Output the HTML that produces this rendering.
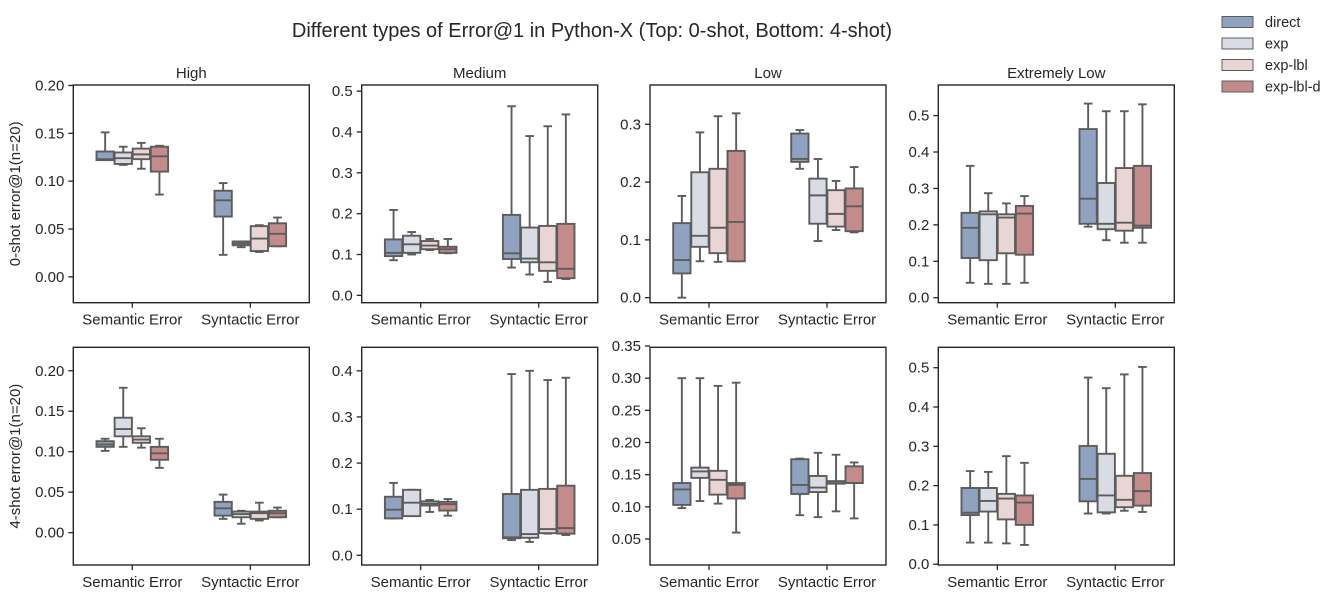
<!DOCTYPE html>
<html><head><meta charset="utf-8"><style>
body{margin:0;background:#fff;}
svg{display:block;font-family:"Liberation Sans",Arial,sans-serif;}
</style></head><body>
<svg id="chart" width="1339" height="602" viewBox="0 0 1339 602"></svg>
<script>
const categories = ["Semantic Error","Syntactic Error"];
const hues = ["direct","exp","exp-lbl","exp-lbl-d"];
const hueColors = ["#8fa3c0","#d9dce4","#ead5d5","#c38b89"];
const panelTitles = ["High","Medium","Low","Extremely Low"];
const rowLabels = ["0-shot error@1(n=20)","4-shot error@1(n=20)"];
// each box: [lowWhisker, q1, median, q3, highWhisker]
const high0 = [
 [[0.122,0.122,0.123,0.131,0.151],[0.117,0.118,0.124,0.130,0.136],[0.113,0.123,0.128,0.134,0.140],[0.086,0.110,0.126,0.136,0.137]],
 [[0.023,0.063,0.080,0.090,0.098],[0.031,0.033,0.035,0.037,0.037],[0.026,0.027,0.040,0.053,0.054],[0.032,0.032,0.045,0.056,0.062]]];
const medium0 = [
 [[0.086,0.096,0.104,0.137,0.209],[0.100,0.104,0.125,0.146,0.155],[0.111,0.113,0.122,0.133,0.138],[0.103,0.104,0.113,0.119,0.138]],
 [[0.068,0.089,0.103,0.197,0.463],[0.051,0.081,0.090,0.166,0.390],[0.033,0.060,0.081,0.170,0.414],[0.040,0.042,0.065,0.175,0.443]]];
const low0 = [
 [[0.000,0.042,0.065,0.129,0.176],[0.063,0.088,0.107,0.217,0.286],[0.062,0.077,0.121,0.223,0.314],[0.063,0.063,0.131,0.254,0.319]],
 [[0.223,0.235,0.240,0.284,0.290],[0.098,0.128,0.177,0.206,0.240],[0.117,0.123,0.145,0.186,0.202],[0.113,0.115,0.158,0.189,0.226]]];
const extLow0 = [
 [[0.041,0.109,0.192,0.233,0.362],[0.038,0.103,0.229,0.237,0.287],[0.038,0.122,0.220,0.229,0.259],[0.041,0.118,0.231,0.252,0.279]],
 [[0.195,0.203,0.272,0.463,0.533],[0.158,0.188,0.203,0.315,0.512],[0.151,0.184,0.206,0.356,0.512],[0.151,0.192,0.198,0.362,0.531]]];
const high4 = [
 [[0.101,0.106,0.109,0.113,0.116],[0.106,0.119,0.128,0.142,0.179],[0.105,0.111,0.115,0.119,0.129],[0.080,0.090,0.098,0.106,0.116]],
 [[0.017,0.021,0.030,0.038,0.047],[0.011,0.019,0.023,0.026,0.027],[0.015,0.017,0.024,0.026,0.037],[0.019,0.019,0.024,0.027,0.031]]];
const medium4 = [
 [[0.080,0.080,0.099,0.127,0.157],[0.085,0.085,0.114,0.142,0.142],[0.094,0.108,0.112,0.117,0.120],[0.086,0.097,0.111,0.116,0.122]],
 [[0.033,0.037,0.039,0.133,0.393],[0.029,0.038,0.046,0.142,0.400],[0.047,0.048,0.057,0.144,0.380],[0.044,0.047,0.059,0.151,0.385]]];
const low4 = [
 [[0.098,0.103,0.127,0.137,0.300],[0.109,0.145,0.155,0.161,0.300],[0.105,0.119,0.142,0.156,0.288],[0.060,0.113,0.134,0.137,0.293]],
 [[0.087,0.120,0.134,0.174,0.175],[0.084,0.123,0.130,0.148,0.184],[0.093,0.136,0.137,0.140,0.181],[0.082,0.137,0.137,0.163,0.169]]];
const extLow4 = [
 [[0.055,0.125,0.131,0.194,0.237],[0.055,0.134,0.161,0.194,0.235],[0.053,0.114,0.167,0.179,0.275],[0.049,0.100,0.157,0.175,0.258]],
 [[0.129,0.160,0.217,0.301,0.475],[0.129,0.132,0.175,0.281,0.448],[0.136,0.145,0.164,0.225,0.483],[0.133,0.149,0.186,0.232,0.502]]];
const ticks0 = [[0,0.05,0.10,0.15,0.20],[0,0.1,0.2,0.3,0.4,0.5],[0,0.1,0.2,0.3],[0,0.1,0.2,0.3,0.4,0.5]];
const ticks4 = [[0,0.05,0.10,0.15,0.20],[0,0.1,0.2,0.3,0.4],[0.05,0.10,0.15,0.20,0.25,0.30,0.35],[0,0.1,0.2,0.3,0.4,0.5]];
const tickDecimals = [[2,1,1,1],[2,1,2,1]];
const ylims0 = [[-0.027,0.2005],[-0.018,0.515],[-0.0087,0.368],[-0.0137,0.584]];
const ylims4 = [[-0.040,0.229],[-0.021,0.451],[0.0096,0.348],[-0.002,0.552]];

const svg = document.getElementById('chart');
const NS = 'http://www.w3.org/2000/svg';
function mk(tag, attrs, parent){const e=document.createElementNS(NS,tag);for(const k in attrs)e.setAttribute(k,attrs[k]);(parent||svg).appendChild(e);return e;}

const t = mk('text',{x:592,y:37,'text-anchor':'middle','font-size':20,fill:'#262626'});
t.textContent='Different types of Error@1 in Python-X (Top: 0-shot, Bottom: 4-shot)';



const lefts=[73.3,361.7,650,938.3], W=236, tops=[85,347.3], H=217.7;
const allData=[[high0,medium0,low0,extLow0],[high4,medium4,low4,extLow4]];
const allTicks=[ticks0,ticks4], allLims=[ylims0,ylims4];
const lineCol='#5c5c5c';
const LW=1.9;

for(let r=0;r<2;r++){
 for(let c=0;c<4;c++){
  const g=mk('g',{});
  
  
  const x0=lefts[c], y0=tops[r];
  const [lo,hi]=allLims[r][c];
  const ys=v=>y0+H-(v-lo)/(hi-lo)*H;
  const xs=v=>x0+(v+0.5)/2*W;
  allTicks[r][c].forEach(v=>{
   const y=ys(v);
   mk('line',{x1:x0-5,x2:x0,y1:y,y2:y,stroke:'#262626','stroke-width':1.3},g);
   const tl=mk('text',{x:x0-9,y:y+5,'text-anchor':'end','font-size':15,fill:'#262626'},g);
   tl.textContent=v.toFixed(tickDecimals[r][c]);
   
   
  });
  categories.forEach((cat,i)=>{
   const x=xs(i);
   mk('line',{x1:x,x2:x,y1:y0+H,y2:y0+H+5,stroke:'#262626','stroke-width':1.3},g);
   const tl=mk('text',{x:x,y:y0+H+22,'text-anchor':'middle','font-size':15,fill:'#262626'},g);
   tl.textContent=cat;
   
   
  });
  const data=allData[r][c];
  const step=18.1, bw=17.3;
  data.forEach((grp,i)=>{
   grp.forEach((s,h)=>{
    const cx=xs(i)+(h-1.5)*step;
    const [wl,q1,md,q3,wh]=s;
    const bg=mk('g',{},g);
    
    
    mk('line',{x1:cx,x2:cx,y1:ys(q3),y2:ys(wh),stroke:lineCol,'stroke-width':LW},bg);
    mk('line',{x1:cx,x2:cx,y1:ys(q1),y2:ys(wl),stroke:lineCol,'stroke-width':LW},bg);
    mk('line',{x1:cx-bw/4,x2:cx+bw/4,y1:ys(wh),y2:ys(wh),stroke:lineCol,'stroke-width':LW},bg);
    mk('line',{x1:cx-bw/4,x2:cx+bw/4,y1:ys(wl),y2:ys(wl),stroke:lineCol,'stroke-width':LW},bg);
    mk('rect',{x:cx-bw/2,y:ys(q3),width:bw,height:Math.max(0.5,ys(q1)-ys(q3)),fill:hueColors[h],stroke:lineCol,'stroke-width':LW},bg);
    mk('line',{x1:cx-bw/2,x2:cx+bw/2,y1:ys(md),y2:ys(md),stroke:lineCol,'stroke-width':LW},bg);
   });
  });
  mk('rect',{x:x0,y:y0,width:W,height:H,fill:'none',stroke:'#262626','stroke-width':1.4},g);
  if(r===0){
   const pt=mk('text',{x:x0+W/2,y:y0-7,'text-anchor':'middle','font-size':15,fill:'#262626'},g);
   pt.textContent=panelTitles[c];
   
   
  }
  if(c===0){
   const yl=mk('text',{x:0,y:0,'text-anchor':'middle','font-size':15,fill:'#262626',transform:`translate(20,${y0+H/2}) rotate(-90)`},g);
   yl.textContent=rowLabels[r];
   
   
  }
 }
}
const lg=mk('g',{});


hues.forEach((h,i)=>{
 const y=22+i*21.5;
 const e=mk('g',{},lg);
 
 
 mk('rect',{x:1222,y:y-5.5,width:31,height:11,fill:hueColors[i],stroke:'#5c5c5c','stroke-width':1},e);
 const tx=mk('text',{x:1265,y:y+5,'font-size':14.5,fill:'#262626'},e);
 tx.textContent=h;
});
</script>
</body></html>
